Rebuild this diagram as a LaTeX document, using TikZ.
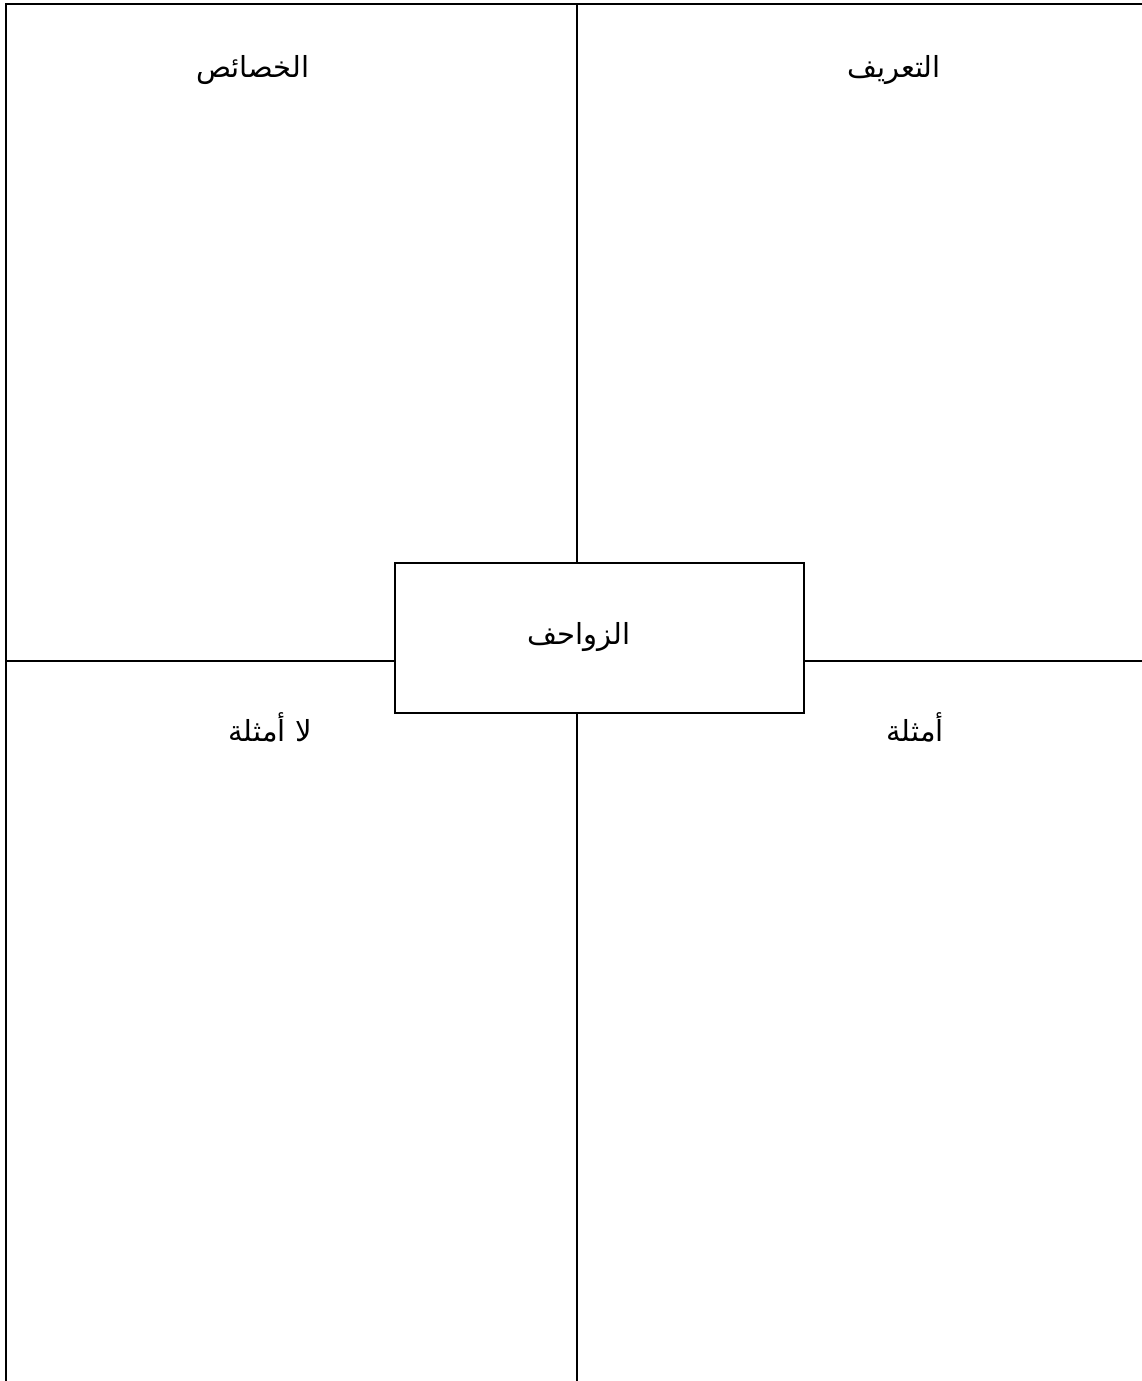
\documentclass[tikz,border=0pt]{standalone}
\usepackage{fontspec}
\newfontfamily\arabicfont[Script=Arabic]{DejaVu Sans}
\TeXXeTstate=1
\tikzset{
  frame/.style={draw=black, line width=2pt},
  lbl/.style={inner sep=0pt, font=\arabicfont\fontsize{29}{34}\selectfont},
  centerbox/.style={draw=black, line width=2pt, minimum width=409pt, minimum height=150pt, inner sep=0pt}
}
\begin{document}
\begin{tikzpicture}[x=1pt,y=-1pt]
\useasboundingbox (0,0) rectangle (1142,1381);
\clip (0,0) rectangle (1142,1381);
% outer frame (extends beyond right and bottom edges)
\draw[frame] (6,4) rectangle (1160,1400);
% central box
\node[centerbox] (box) at (599.5,638) {};
\coordinate (vt) at (577,4);
\coordinate (vb) at (577,1400);
\coordinate (hl) at (6,661);
\coordinate (hr) at (1160,661);
\draw[frame] (vt) -- (vt |- box.north);
\draw[frame] (vb) -- (vb |- box.south);
\draw[frame] (hl) -- (hl -| box.west);
\draw[frame] (hr) -- (hr -| box.east);
% labels
\node[lbl] (topic) at (579,637) {\beginR الزواحف\endR};
\node[lbl] (chars) at (253,70) {\beginR الخصائص\endR};
\node[lbl] (defn) at (894,70) {\beginR التعريف\endR};
\node[lbl] (nonex) at (270,727) {\beginR لا أمثلة\endR};
\node[lbl] (ex) at (915,727) {\beginR أمثلة\endR};
\end{tikzpicture}
\end{document}
